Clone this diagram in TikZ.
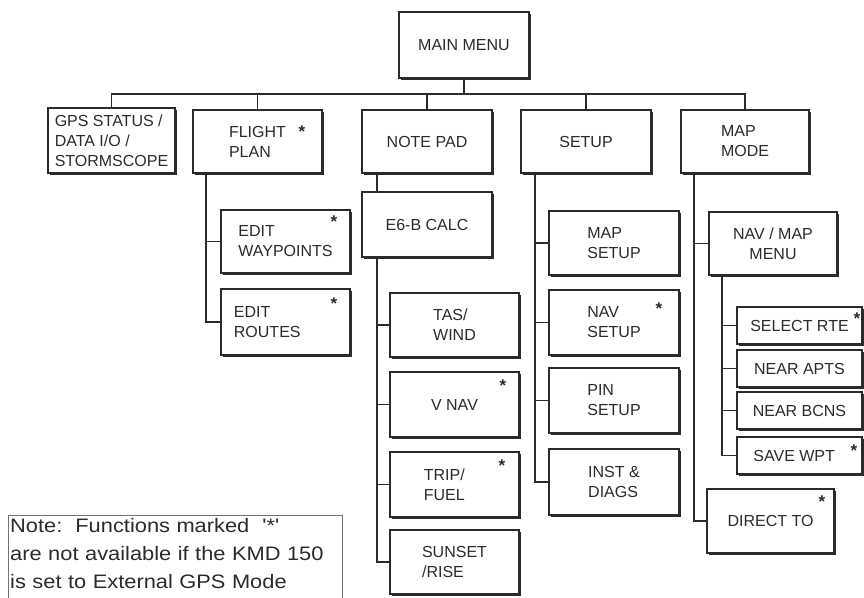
\documentclass[tikz,border=0pt]{standalone}
\usepackage{fontspec}
\setmainfont{Liberation Sans}
\newfontfamily\notefont[FakeStretch=1.12]{Liberation Sans}
\usetikzlibrary{shadows}
\definecolor{ink}{HTML}{2B2B2B}
\tikzset{
  bx/.style={draw=ink, line width=1.2pt, fill=white, inner sep=0pt, outer sep=0pt,
    align=left, text=ink, font=\fontsize{16}{20}\selectfont,
    drop shadow={shadow xshift=1.8pt, shadow yshift=-1.8pt, fill=ink, opacity=1}},
  sbx/.style={bx},
  ln/.style={draw=ink, line width=1.3pt},
  ast/.style={text=ink, inner sep=0pt, font=\bfseries\fontsize{17}{17}\selectfont},
  noteframe/.style={draw=black!55, line width=0.7pt},
}
\newcommand{\boxat}[6][bx]{%
  \node[#1, minimum width=#5-#3, minimum height=#6-#4] (#2) at ({(#3+#5)/2},{(#4+#6)/2})}
\begin{document}
\begin{tikzpicture}[x=1pt,y=-1pt]
\useasboundingbox (0,0) rectangle (864,597);
% boxes
\boxat{main}{399}{12}{529}{78}{MAIN MENU};
\boxat{gps}{48}{108}{175}{173}{GPS STATUS /\\DATA I/O /\\STORMSCOPE};
\boxat{fp}{193}{110}{322}{173}{FLIGHT\\PLAN};
\boxat{np}{362}{110}{492}{173}{NOTE PAD};
\boxat{setup}{521}{110}{651}{173}{SETUP};
\boxat{mm}{681}{110}{809}{173}{MAP\\MODE};
\boxat{ewp}{221}{210}{350}{273}{EDIT\\WAYPOINTS};
\boxat{ert}{221}{289}{350}{355}{EDIT\\ROUTES\phantom{INTS}};
\boxat{e6b}{362}{192}{492}{257}{E6-B CALC};
\boxat{tas}{390}{293}{519}{357}{TAS/\\WIND};
\boxat{vnav}{390}{372}{519}{437}{V NAV};
\boxat{trip}{390}{452}{519}{517}{TRIP/\\FUEL\phantom{ET}};
\boxat{sun}{390}{530}{519}{594}{SUNSET\\/RISE};
\boxat{msu}{549}{211}{679}{275}{MAP\\SETUP};
\boxat{nsu}{549}{290}{679}{355}{NAV\\SETUP};
\boxat{psu}{549}{368}{679}{433}{PIN\\SETUP};
\boxat{inst}{549}{449}{679}{515}{INST \&\\DIAGS};
\boxat[bx,align=center]{nmm}{709}{212}{837}{275}{NAV / MAP\\MENU};
\boxat{dto}{707}{489}{834}{553}{DIRECT TO};
\boxat[sbx]{srte}{737}{307}{862}{344}{SELECT RTE};
\boxat[sbx]{napt}{737}{350}{862}{387}{NEAR APTS};
\boxat[sbx]{nbcn}{737}{392}{862}{429}{NEAR BCNS};
\boxat[sbx]{swpt}{737}{437}{862}{474}{SAVE WPT\phantom{A}};
% stars
\node[ast] (a1) at (302,131.5) {*};
\node[ast] (a2) at (334,221.5) {*};
\node[ast] (a3) at (334,303.5) {*};
\node[ast] (a4) at (503,385.5) {*};
\node[ast] (a5) at (502,465.5) {*};
\node[ast] (a6) at (659,308.5) {*};
\node[ast] (a7) at (857,318.5) {*};
\node[ast] (a8) at (854,450.5) {*};
\node[ast] (a9) at (822,501.5) {*};
% connectors
\coordinate (bus) at (0,94);
\foreach \c in {gps,fp,np,setup,mm}
  \draw[ln] (main.south) -- (main.south |- bus) -| (\c.north);
\foreach \c in {ewp,ert}
  \draw[ln] ([xshift=-51.5pt]fp.south) |- (\c.west);
\draw[ln] ([xshift=-50pt]np.south) -- ([xshift=-50pt]e6b.north);
\foreach \c in {tas,vnav,trip,sun}
  \draw[ln] ([xshift=-50pt]e6b.south) |- (\c.west);
\foreach \c in {msu,nsu,psu,inst}
  \draw[ln] ([xshift=-51pt]setup.south) |- (\c.west);
\foreach \c in {nmm,dto}
  \draw[ln] ([xshift=-51pt]mm.south) |- (\c.west);
\foreach \c in {srte,napt,nbcn,swpt}
  \draw[ln] ([xshift=-51pt]nmm.south) |- (\c.west);
% note
\node[anchor=north west, inner xsep=2pt, inner ysep=3pt,
  text width=330pt, align=left, text=ink,
  font=\notefont\fontsize{19.5}{28}\selectfont] (note) at (8,515)
  {Note:\ \ Functions marked \ '*'\\are not available if the KMD 150\\is set to External GPS Mode};
\draw[noteframe] (note.north west) rectangle ([yshift=-30pt]note.south east);
\end{tikzpicture}
\end{document}
